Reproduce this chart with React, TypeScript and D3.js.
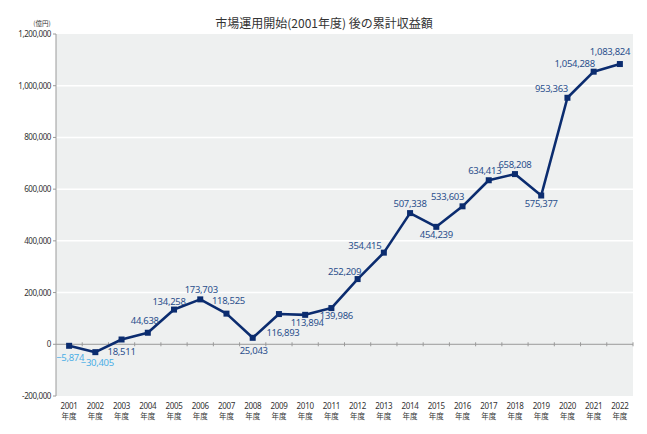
import { useMemo } from "react";
import * as d3 from "d3";

const years = [
  "2001", "2002", "2003", "2004", "2005", "2006", "2007", "2008", "2009", "2010", "2011",
  "2012", "2013", "2014", "2015", "2016", "2017", "2018", "2019", "2020", "2021", "2022",
];
const values = [
  -5874, -30405, 18511, 44638, 134258, 173703, 118525, 25043, 116893, 113894, 139986,
  252209, 354415, 507338, 454239, 533603, 634413, 658208, 575377, 953363, 1054288, 1083824,
];
const yTicks = [-200000, 0, 200000, 400000, 600000, 800000, 1000000, 1200000];
// label offsets (px) relative to each point
const labelDx = [1, 2, 0, -3, -5, 1, 2, 1, 4, 2, 5, -13, -19, 0, 0, -15, -4, 0, 0, -16, -19, -10];
const labelDy = [15, 14, 16, -9, -5, -6, -10, 16, 22, 11, 11, -4, -4, -6, 11, -6, -6, -6, 11, -6, -5, -9];

const W = 647;
const H = 434;
const margin = { top: 34, right: 14, bottom: 38, left: 56 };

export default function App() {
  const x = useMemo(
    () => d3.scaleBand<string>().domain(years).range([margin.left, W - margin.right]).padding(0),
    []
  );
  const y = useMemo(
    () => d3.scaleLinear().domain([-200000, 1200000]).range([H - margin.bottom, margin.top]),
    []
  );
  const fmt = d3.format(",");
  const cx = (yr: string) => (x(yr) as number) + x.bandwidth() / 2;
  const line = d3
    .line<number>()
    .x((_, i) => cx(years[i]))
    .y((d) => y(d));

  const left = margin.left;
  const right = W - margin.right;
  const numFont = "'Noto Sans', 'Open Sans', sans-serif";

  return (
    <div style={{ position: "absolute", left: 0, top: 0 }}>
      <svg width={W} height={H} style={{ display: "block", background: "#fff" }}>
        <rect x={left} y={y(1200000)} width={right - left} height={y(-200000) - y(1200000)} fill="#eef0f0" />
        {yTicks
          .filter((t) => t > 0 && t < 1200000)
          .map((t) => (
            <line key={t} x1={left} x2={right} y1={y(t)} y2={y(t)} stroke="#fff" strokeWidth={1.5} />
          ))}
        {/* zero axis */}
        <line x1={left} x2={right} y1={y(0)} y2={y(0)} stroke="#9a9a9a" strokeWidth={1} />
        {years.map((yr) => (
          <line key={yr} x1={(x(yr) as number) + x.bandwidth()} x2={(x(yr) as number) + x.bandwidth()} y1={y(0) - 2} y2={y(0) + 2} stroke="#9a9a9a" strokeWidth={1} />
        ))}
        {/* y axis */}
        <line x1={left} x2={left} y1={y(1200000)} y2={y(-200000)} stroke="#9a9a9a" strokeWidth={1} />
        {yTicks.map((t) => (
          <g key={t}>
            <line x1={left - 3} x2={left} y1={y(t)} y2={y(t)} stroke="#9a9a9a" strokeWidth={1} />
            <text x={left - 5} y={y(t) + 3} textAnchor="end" fontSize={8} fill="#333" fontFamily={numFont} letterSpacing={-0.4}>
              {t < 0 ? "-" + fmt(-t) : fmt(t)}
            </text>
          </g>
        ))}
        <text x={42} y={26} textAnchor="middle" fontSize={6.5} fill="#333" fontFamily="'Noto Sans CJK JP', sans-serif">
          (億円)
        </text>
        <text x={324} y={28} textAnchor="middle" fontSize={12} fill="#333" fontFamily="'Noto Sans CJK JP', sans-serif">
          市場運用開始(2001年度) 後の累計収益額
        </text>
        {/* x labels */}
        {years.map((yr) => (
          <g key={yr} fill="#333">
            <text x={cx(yr)} y={408.5} textAnchor="middle" fontSize={8} fontFamily={numFont} letterSpacing={-0.3}>
              {yr}
            </text>
            <text x={cx(yr)} y={419} textAnchor="middle" fontSize={7.5} fontFamily="'Noto Sans CJK JP', sans-serif">
              年度
            </text>
          </g>
        ))}
        {/* series */}
        <path d={line(values) ?? ""} fill="none" stroke="#0b2c6f" strokeWidth={2.6} strokeLinejoin="round" />
        {values.map((v, i) => (
          <rect key={i} x={cx(years[i]) - 3} y={y(v) - 3} width={6} height={6} fill="#0b2c6f" />
        ))}
        {values.map((v, i) => (
          <text
            key={i}
            x={cx(years[i]) + labelDx[i]}
            y={y(v) + labelDy[i]}
            textAnchor="middle"
            fontSize={9.5}
            fontFamily={numFont}
            letterSpacing={-0.3}
            fill={v < 0 ? "#4aaee6" : "#2a4f8c"}
          >
            {v < 0 ? "−" + fmt(-v) : fmt(v)}
          </text>
        ))}
      </svg>
    </div>
  );
}
